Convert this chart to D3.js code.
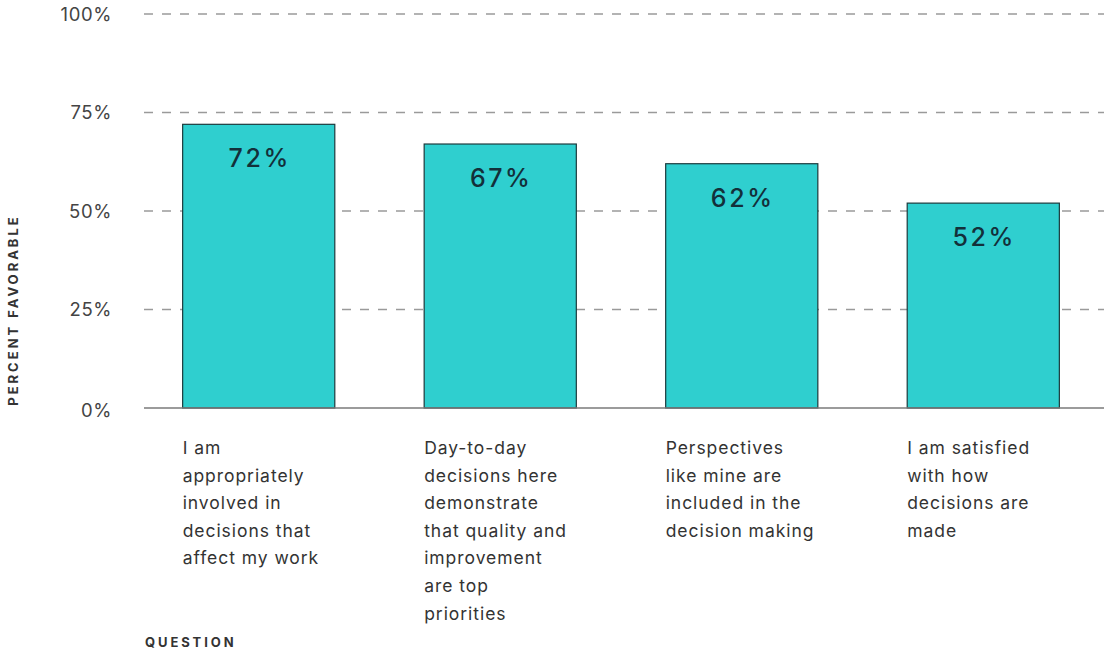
<!DOCTYPE html>
<html>
<head>
<meta charset="utf-8">
<script src="https://cdn.jsdelivr.net/npm/d3@7"></script>
<style>
  html, body { margin: 0; padding: 0; background: #ffffff; }
  svg { display: block; font-family: Inter, "Noto Sans", sans-serif; }
</style>
</head>
<body>
<svg id="chart" width="1104" height="653"></svg>
<script>
// Survey questions (one bar each) and their percent-favorable scores
const questions = [
  ["I am", "appropriately", "involved in", "decisions that", "affect my work"],
  ["Day-to-day", "decisions here", "demonstrate", "that quality and", "improvement", "are top", "priorities"],
  ["Perspectives", "like mine are", "included in the", "decision making"],
  ["I am satisfied", "with how", "decisions are", "made"]
];
const favorable = [72, 67, 62, 52];
const yTicks = [0, 25, 50, 75, 100];

const svg = d3.select("#chart");

const x = d3.scaleBand()
  .domain(d3.range(questions.length))
  .range([144, 1098])
  .paddingInner(0.37)
  .paddingOuter(0.16);

const y = d3.scaleLinear()
  .domain([0, 100])
  .range([408, 14]);

// Dashed gridlines
svg.append("g")
  .selectAll("line")
  .data(yTicks.filter(d => d > 0))
  .join("line")
  .attr("x1", 144)
  .attr("x2", 1104)
  .attr("y1", d => y(d))
  .attr("y2", d => y(d))
  .attr("stroke", "#9a9a9a")
  .attr("stroke-width", 1.3)
  .attr("stroke-dasharray", "9,9");

// Y tick labels
const yAxis = d3.axisLeft(y)
  .tickValues(yTicks)
  .tickFormat(d => d + "%")
  .tickSize(0)
  .tickPadding(0);

const yg = svg.append("g")
  .attr("transform", "translate(112,0)")
  .call(yAxis);
yg.select(".domain").remove();
yg.selectAll("text")
  .attr("font-family", "Inter, 'Noto Sans', sans-serif")
  .attr("font-size", 18.5)
  .attr("letter-spacing", "0.6px")
  .attr("fill", "#444444")
  .attr("dy", "0.35em");
yg.selectAll(".tick").filter(d => d === 0).select("text").attr("dy", "0.45em");

// Bars
svg.append("g")
  .selectAll("rect")
  .data(favorable)
  .join("rect")
  .attr("x", (d, i) => x(i))
  .attr("y", d => y(d))
  .attr("width", x.bandwidth())
  .attr("height", d => y(0) - y(d))
  .attr("fill", "#2fcfcf")
  .attr("stroke", "#1c3a3c")
  .attr("stroke-width", 1.2);

// Value labels inside bars
svg.append("g")
  .selectAll("text")
  .data(favorable)
  .join("text")
  .attr("x", (d, i) => x(i) + x.bandwidth() / 2 + 1)
  .attr("y", d => y(d) + 43)
  .attr("text-anchor", "middle")
  .attr("font-size", 25)
  .attr("font-weight", 500)
  .attr("letter-spacing", "2.6px")
  .attr("fill", "#13303a")
  .text(d => d + "%");

// Baseline
svg.append("line")
  .attr("x1", 144)
  .attr("x2", 1104)
  .attr("y1", y(0))
  .attr("y2", y(0))
  .attr("stroke", "#7a7a7a")
  .attr("stroke-width", 1.5);

// Category labels below the axis
const cat = svg.append("g")
  .selectAll("text")
  .data(questions)
  .join("text")
  .attr("x", (d, i) => x(i))
  .attr("y", 454)
  .attr("font-size", 17.5)
  .attr("letter-spacing", "0.95px")
  .attr("fill", "#333333");
cat.selectAll("tspan")
  .data(d => d)
  .join("tspan")
  .attr("x", function () { return d3.select(this.parentNode).attr("x"); })
  .attr("dy", (d, i) => i === 0 ? 0 : 27.6)
  .text(d => d);

// Axis titles
svg.append("text")
  .attr("x", 145)
  .attr("y", 647)
  .attr("font-size", 13)
  .attr("font-weight", 700)
  .attr("letter-spacing", "2.9px")
  .attr("fill", "#333333")
  .text("QUESTION");

svg.append("text")
  .attr("transform", "translate(18,310) rotate(-90)")
  .attr("text-anchor", "middle")
  .attr("font-size", 13)
  .attr("font-weight", 700)
  .attr("letter-spacing", "3px")
  .attr("fill", "#333333")
  .text("PERCENT FAVORABLE");
</script>
</body>
</html>
